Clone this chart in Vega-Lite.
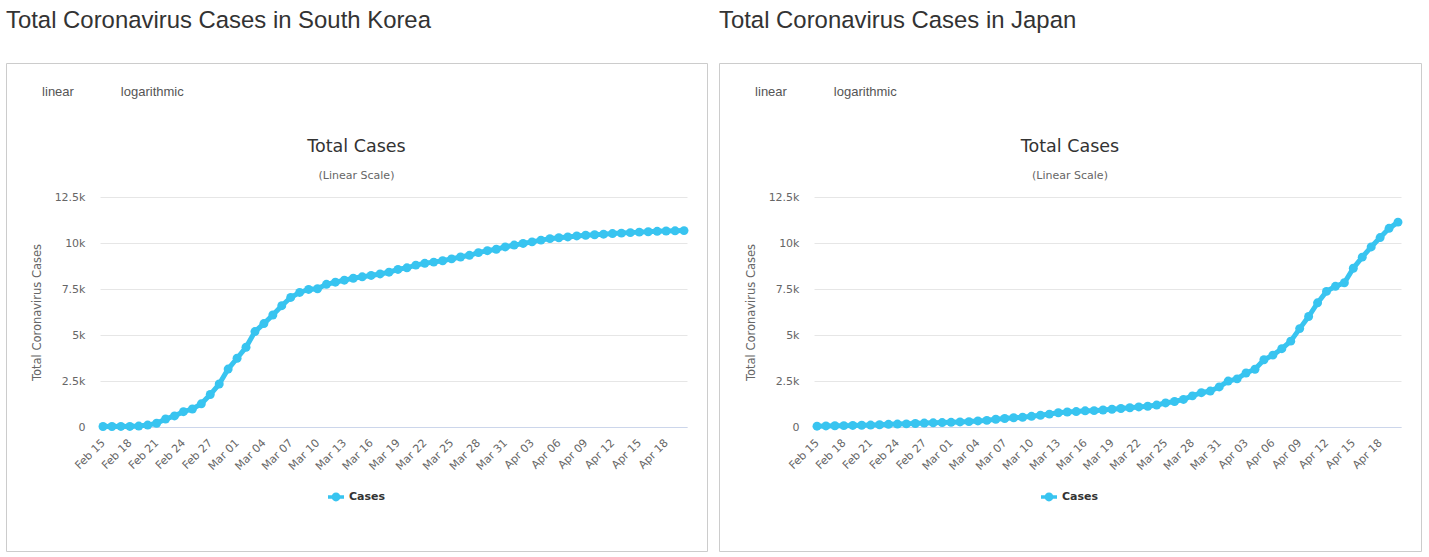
{
  "$schema": "https://vega.github.io/schema/vega-lite/v6.json",
  "background": "white",
  "padding": {"left": 5, "right": 5, "top": 8, "bottom": 5},
  "spacing": 10,
  "datasets": {
    "korea": [
      {"date": "2020/02/15", "cases": 28}, {"date": "2020/02/16", "cases": 29}, {"date": "2020/02/17", "cases": 30},
      {"date": "2020/02/18", "cases": 31}, {"date": "2020/02/19", "cases": 51}, {"date": "2020/02/20", "cases": 104},
      {"date": "2020/02/21", "cases": 204}, {"date": "2020/02/22", "cases": 433}, {"date": "2020/02/23", "cases": 602},
      {"date": "2020/02/24", "cases": 833}, {"date": "2020/02/25", "cases": 977}, {"date": "2020/02/26", "cases": 1261},
      {"date": "2020/02/27", "cases": 1766}, {"date": "2020/02/28", "cases": 2337}, {"date": "2020/02/29", "cases": 3150},
      {"date": "2020/03/01", "cases": 3736}, {"date": "2020/03/02", "cases": 4335}, {"date": "2020/03/03", "cases": 5186},
      {"date": "2020/03/04", "cases": 5621}, {"date": "2020/03/05", "cases": 6088}, {"date": "2020/03/06", "cases": 6593},
      {"date": "2020/03/07", "cases": 7041}, {"date": "2020/03/08", "cases": 7314}, {"date": "2020/03/09", "cases": 7478},
      {"date": "2020/03/10", "cases": 7513}, {"date": "2020/03/11", "cases": 7755}, {"date": "2020/03/12", "cases": 7869},
      {"date": "2020/03/13", "cases": 7979}, {"date": "2020/03/14", "cases": 8086}, {"date": "2020/03/15", "cases": 8162},
      {"date": "2020/03/16", "cases": 8236}, {"date": "2020/03/17", "cases": 8320}, {"date": "2020/03/18", "cases": 8413},
      {"date": "2020/03/19", "cases": 8565}, {"date": "2020/03/20", "cases": 8652}, {"date": "2020/03/21", "cases": 8799},
      {"date": "2020/03/22", "cases": 8897}, {"date": "2020/03/23", "cases": 8961}, {"date": "2020/03/24", "cases": 9037},
      {"date": "2020/03/25", "cases": 9137}, {"date": "2020/03/26", "cases": 9241}, {"date": "2020/03/27", "cases": 9332},
      {"date": "2020/03/28", "cases": 9478}, {"date": "2020/03/29", "cases": 9583}, {"date": "2020/03/30", "cases": 9661},
      {"date": "2020/03/31", "cases": 9786}, {"date": "2020/04/01", "cases": 9887}, {"date": "2020/04/02", "cases": 9976},
      {"date": "2020/04/03", "cases": 10062}, {"date": "2020/04/04", "cases": 10156}, {"date": "2020/04/05", "cases": 10237},
      {"date": "2020/04/06", "cases": 10284}, {"date": "2020/04/07", "cases": 10331}, {"date": "2020/04/08", "cases": 10384},
      {"date": "2020/04/09", "cases": 10423}, {"date": "2020/04/10", "cases": 10450}, {"date": "2020/04/11", "cases": 10480},
      {"date": "2020/04/12", "cases": 10512}, {"date": "2020/04/13", "cases": 10537}, {"date": "2020/04/14", "cases": 10564},
      {"date": "2020/04/15", "cases": 10591}, {"date": "2020/04/16", "cases": 10613}, {"date": "2020/04/17", "cases": 10635},
      {"date": "2020/04/18", "cases": 10653}, {"date": "2020/04/19", "cases": 10661}, {"date": "2020/04/20", "cases": 10674}
    ],
    "japan": [
      {"date": "2020/02/15", "cases": 43}, {"date": "2020/02/16", "cases": 59}, {"date": "2020/02/17", "cases": 66},
      {"date": "2020/02/18", "cases": 74}, {"date": "2020/02/19", "cases": 84}, {"date": "2020/02/20", "cases": 94},
      {"date": "2020/02/21", "cases": 105}, {"date": "2020/02/22", "cases": 122}, {"date": "2020/02/23", "cases": 147},
      {"date": "2020/02/24", "cases": 159}, {"date": "2020/02/25", "cases": 170}, {"date": "2020/02/26", "cases": 189},
      {"date": "2020/02/27", "cases": 214}, {"date": "2020/02/28", "cases": 228}, {"date": "2020/02/29", "cases": 241},
      {"date": "2020/03/01", "cases": 256}, {"date": "2020/03/02", "cases": 274}, {"date": "2020/03/03", "cases": 293},
      {"date": "2020/03/04", "cases": 331}, {"date": "2020/03/05", "cases": 360}, {"date": "2020/03/06", "cases": 420},
      {"date": "2020/03/07", "cases": 461}, {"date": "2020/03/08", "cases": 502}, {"date": "2020/03/09", "cases": 530},
      {"date": "2020/03/10", "cases": 581}, {"date": "2020/03/11", "cases": 639}, {"date": "2020/03/12", "cases": 701},
      {"date": "2020/03/13", "cases": 773}, {"date": "2020/03/14", "cases": 814}, {"date": "2020/03/15", "cases": 839},
      {"date": "2020/03/16", "cases": 878}, {"date": "2020/03/17", "cases": 889}, {"date": "2020/03/18", "cases": 924},
      {"date": "2020/03/19", "cases": 963}, {"date": "2020/03/20", "cases": 1007}, {"date": "2020/03/21", "cases": 1046},
      {"date": "2020/03/22", "cases": 1089}, {"date": "2020/03/23", "cases": 1128}, {"date": "2020/03/24", "cases": 1193},
      {"date": "2020/03/25", "cases": 1307}, {"date": "2020/03/26", "cases": 1387}, {"date": "2020/03/27", "cases": 1499},
      {"date": "2020/03/28", "cases": 1693}, {"date": "2020/03/29", "cases": 1866}, {"date": "2020/03/30", "cases": 1953},
      {"date": "2020/03/31", "cases": 2178}, {"date": "2020/04/01", "cases": 2495}, {"date": "2020/04/02", "cases": 2617},
      {"date": "2020/04/03", "cases": 2935}, {"date": "2020/04/04", "cases": 3139}, {"date": "2020/04/05", "cases": 3654},
      {"date": "2020/04/06", "cases": 3906}, {"date": "2020/04/07", "cases": 4257}, {"date": "2020/04/08", "cases": 4667},
      {"date": "2020/04/09", "cases": 5347}, {"date": "2020/04/10", "cases": 6005}, {"date": "2020/04/11", "cases": 6748},
      {"date": "2020/04/12", "cases": 7370}, {"date": "2020/04/13", "cases": 7645}, {"date": "2020/04/14", "cases": 7838},
      {"date": "2020/04/15", "cases": 8626}, {"date": "2020/04/16", "cases": 9231}, {"date": "2020/04/17", "cases": 9787},
      {"date": "2020/04/18", "cases": 10296}, {"date": "2020/04/19", "cases": 10797}, {"date": "2020/04/20", "cases": 11135}
    ]
  },
  "resolve": {"scale": {"color": "independent", "x": "independent", "y": "independent"}, "legend": {"color": "independent"}},
  "hconcat": [
    {
      "title": {"text": "Total Coronavirus Cases in South Korea", "subtitle": "\u200b\u00a0\u00a0\u00a0\u00a0\u00a0\u00a0\u00a0\u00a0\u00a0\u00a0linear\u00a0\u00a0\u00a0\u00a0\u00a0\u00a0\u00a0\u00a0\u00a0\u00a0\u00a0\u00a0\u00a0logarithmic", "anchor": "start", "frame": "group", "offset": -36, "font": "Liberation Sans", "fontSize": 23.9, "fontWeight": "normal", "color": "#333333", "subtitleFont": "Liberation Sans", "subtitleFontSize": 13, "subtitleColor": "#555555", "subtitlePadding": 53},
      "resolve": {"scale": {"color": "independent"}, "legend": {"color": "independent"}},
      "vconcat": [
        {
          "width": 701,
          "height": 488,
          "data": {"name": "korea"},
          "title": {"text": "Total Cases", "subtitle": "(Linear Scale)", "anchor": "middle", "offset": -118, "font": "DejaVu Sans", "fontSize": 17.5, "fontWeight": "normal", "color": "#333333", "subtitleFont": "DejaVu Sans", "subtitleFontSize": 11, "subtitleColor": "#666666", "subtitlePadding": 15},
          "encoding": {
            "x": {"field": "date", "type": "temporal", "scale": {"range": [94, 681], "padding": 3},
              "axis": {"orient": "bottom", "offset": -124, "title": null, "format": "%b %d",
                "values": [{"year": 2020, "month": 2, "date": 15}, {"year": 2020, "month": 2, "date": 18}, {"year": 2020, "month": 2, "date": 21}, {"year": 2020, "month": 2, "date": 24}, {"year": 2020, "month": 2, "date": 27}, {"year": 2020, "month": 3, "date": 1}, {"year": 2020, "month": 3, "date": 4}, {"year": 2020, "month": 3, "date": 7}, {"year": 2020, "month": 3, "date": 10}, {"year": 2020, "month": 3, "date": 13}, {"year": 2020, "month": 3, "date": 16}, {"year": 2020, "month": 3, "date": 19}, {"year": 2020, "month": 3, "date": 22}, {"year": 2020, "month": 3, "date": 25}, {"year": 2020, "month": 3, "date": 28}, {"year": 2020, "month": 3, "date": 31}, {"year": 2020, "month": 4, "date": 3}, {"year": 2020, "month": 4, "date": 6}, {"year": 2020, "month": 4, "date": 9}, {"year": 2020, "month": 4, "date": 12}, {"year": 2020, "month": 4, "date": 15}, {"year": 2020, "month": 4, "date": 18}],
                "labelAngle": -45, "labelAlign": "right", "labelBaseline": "middle", "labelPadding": 14, "labelDx": 3, "ticks": false, "tickSize": 0,
                "domain": true, "domainColor": "#ccd6eb", "grid": false, "labelFont": "DejaVu Sans", "labelFontSize": 11, "labelColor": "#666666",
                "labelOverlap": false, "labelBound": false, "labelFlush": false}},
            "y": {"field": "cases", "type": "quantitative", "scale": {"domain": [0, 12500], "range": [364, 134], "nice": false},
              "axis": {"orient": "left", "offset": -94, "values": [0, 2500, 5000, 7500, 10000, 12500],
                "labelExpr": "datum.value == 0 ? '0' : format(datum.value / 1000, '~g') + 'k'",
                "ticks": false, "tickSize": 0, "domain": false, "grid": true, "gridColor": "#e6e6e6",
                "labelFont": "DejaVu Sans", "labelFontSize": 11, "labelColor": "#666666", "labelPadding": 15,
                "title": "Total Coronavirus Cases", "titleFont": "DejaVu Sans", "titleFontSize": 11.5, "titleFontWeight": "normal", "titleColor": "#666666", "titlePadding": 12}}
          },
          "layer": [
            {"mark": {"type": "line", "color": "#38c4f0", "strokeWidth": 5}},
            {"mark": {"type": "point", "filled": true, "opacity": 1, "size": 80},
              "encoding": {"color": {"datum": "Cases", "type": "nominal", "scale": {"range": ["#38c4f0"]},
                "legend": {"orient": "none", "legendX": 322, "legendY": 426, "title": null, "padding": 0,
                  "symbolType": "M-1,-0.22L1,-0.22L1,0.22L-1,0.22Z M-0.55,0A0.55,0.55 0 1,1 0.55,0A0.55,0.55 0 1,1 -0.55,0Z",
                  "symbolSize": 256, "symbolStrokeWidth": 0, "symbolFillColor": "#38c4f0",
                  "labelFont": "DejaVu Sans", "labelFontSize": 11, "labelFontWeight": "bold", "labelColor": "#333333", "labelOffset": 5}}}}
          ]
        }
      ]
    },
    {
      "title": {"text": "Total Coronavirus Cases in Japan", "subtitle": "\u200b\u00a0\u00a0\u00a0\u00a0\u00a0\u00a0\u00a0\u00a0\u00a0\u00a0linear\u00a0\u00a0\u00a0\u00a0\u00a0\u00a0\u00a0\u00a0\u00a0\u00a0\u00a0\u00a0\u00a0logarithmic", "anchor": "start", "frame": "group", "offset": -36, "font": "Liberation Sans", "fontSize": 23.9, "fontWeight": "normal", "color": "#333333", "subtitleFont": "Liberation Sans", "subtitleFontSize": 13, "subtitleColor": "#555555", "subtitlePadding": 53},
      "resolve": {"scale": {"color": "independent"}, "legend": {"color": "independent"}},
      "vconcat": [
        {
          "width": 702,
          "height": 488,
          "data": {"name": "japan"},
          "title": {"text": "Total Cases", "subtitle": "(Linear Scale)", "anchor": "middle", "offset": -118, "font": "DejaVu Sans", "fontSize": 17.5, "fontWeight": "normal", "color": "#333333", "subtitleFont": "DejaVu Sans", "subtitleFontSize": 11, "subtitleColor": "#666666", "subtitlePadding": 15},
          "encoding": {
            "x": {"field": "date", "type": "temporal", "scale": {"range": [95, 682], "padding": 3},
              "axis": {"orient": "bottom", "offset": -124, "title": null, "format": "%b %d",
                "values": [{"year": 2020, "month": 2, "date": 15}, {"year": 2020, "month": 2, "date": 18}, {"year": 2020, "month": 2, "date": 21}, {"year": 2020, "month": 2, "date": 24}, {"year": 2020, "month": 2, "date": 27}, {"year": 2020, "month": 3, "date": 1}, {"year": 2020, "month": 3, "date": 4}, {"year": 2020, "month": 3, "date": 7}, {"year": 2020, "month": 3, "date": 10}, {"year": 2020, "month": 3, "date": 13}, {"year": 2020, "month": 3, "date": 16}, {"year": 2020, "month": 3, "date": 19}, {"year": 2020, "month": 3, "date": 22}, {"year": 2020, "month": 3, "date": 25}, {"year": 2020, "month": 3, "date": 28}, {"year": 2020, "month": 3, "date": 31}, {"year": 2020, "month": 4, "date": 3}, {"year": 2020, "month": 4, "date": 6}, {"year": 2020, "month": 4, "date": 9}, {"year": 2020, "month": 4, "date": 12}, {"year": 2020, "month": 4, "date": 15}, {"year": 2020, "month": 4, "date": 18}],
                "labelAngle": -45, "labelAlign": "right", "labelBaseline": "middle", "labelPadding": 14, "labelDx": 3, "ticks": false, "tickSize": 0,
                "domain": true, "domainColor": "#ccd6eb", "grid": false, "labelFont": "DejaVu Sans", "labelFontSize": 11, "labelColor": "#666666",
                "labelOverlap": false, "labelBound": false, "labelFlush": false}},
            "y": {"field": "cases", "type": "quantitative", "scale": {"domain": [0, 12500], "range": [364, 134], "nice": false},
              "axis": {"orient": "left", "offset": -95, "values": [0, 2500, 5000, 7500, 10000, 12500],
                "labelExpr": "datum.value == 0 ? '0' : format(datum.value / 1000, '~g') + 'k'",
                "ticks": false, "tickSize": 0, "domain": false, "grid": true, "gridColor": "#e6e6e6",
                "labelFont": "DejaVu Sans", "labelFontSize": 11, "labelColor": "#666666", "labelPadding": 15,
                "title": "Total Coronavirus Cases", "titleFont": "DejaVu Sans", "titleFontSize": 11.5, "titleFontWeight": "normal", "titleColor": "#666666", "titlePadding": 12}}
          },
          "layer": [
            {"mark": {"type": "line", "color": "#38c4f0", "strokeWidth": 5}},
            {"mark": {"type": "point", "filled": true, "opacity": 1, "size": 80},
              "encoding": {"color": {"datum": "Cases", "type": "nominal", "scale": {"range": ["#38c4f0"]},
                "legend": {"orient": "none", "legendX": 322, "legendY": 426, "title": null, "padding": 0,
                  "symbolType": "M-1,-0.22L1,-0.22L1,0.22L-1,0.22Z M-0.55,0A0.55,0.55 0 1,1 0.55,0A0.55,0.55 0 1,1 -0.55,0Z",
                  "symbolSize": 256, "symbolStrokeWidth": 0, "symbolFillColor": "#38c4f0",
                  "labelFont": "DejaVu Sans", "labelFontSize": 11, "labelFontWeight": "bold", "labelColor": "#333333", "labelOffset": 5}}}}
          ]
        }
      ]
    }
  ],
  "config": {
    "view": {"stroke": "#cccccc", "strokeWidth": 1},
    "font": "DejaVu Sans"
  }
}
